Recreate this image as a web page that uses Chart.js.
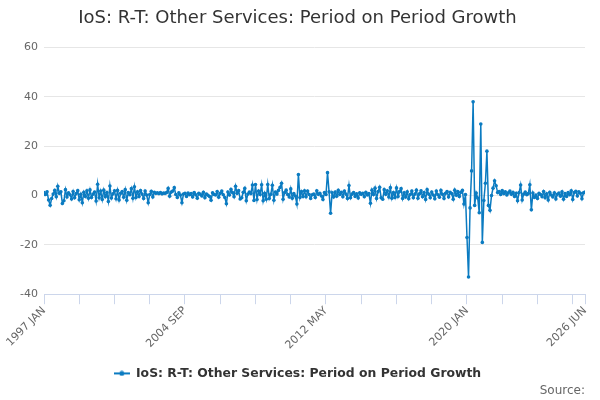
<!DOCTYPE html>
<html>
<head>
<meta charset="utf-8">
<title>IoS: R-T: Other Services: Period on Period Growth</title>
<script src="https://cdn.jsdelivr.net/npm/chart.js@4.4.1/dist/chart.umd.min.js"></script>
<style>
  html, body { margin: 0; padding: 0; background: #fff; }
</style>
</head>
<body>
<canvas id="growth-chart" width="600" height="400"></canvas>
<script>
"use strict";

// month names used to build the category labels
var monthNames = ["JAN", "FEB", "MAR", "APR", "MAY", "JUN", "JUL", "AUG", "SEP", "OCT", "NOV", "DEC"];
var startYear = 1997;

// period on period growth, one row per year (1997 JAN .. 2026 JUN)
var growth = [
    1.2, 0.4, 1.5, -1.8, -3.9, -1.2, 0.6, 2.1, -0.5, 3.8, 0.9, 1.5,
    -3.2, -2.1, 2.4, -0.6, 1.1, 0.3, -1.4, 1.6, -0.9, 0.8, 2.0, -1.7,
    0.5, -2.9, 1.3, -0.4, 1.9, -1.1, 2.3, -0.8, 0.6, 1.4, -2.2, 4.6,
    -0.9, 1.8, -1.6, 2.2, -0.5, 1.2, -2.4, 3.9, -1.0, 0.7, 1.9, -1.3,
    2.1, -1.8, 0.9, 1.6, -0.7, 2.4, -1.9, 1.2, 0.3, 2.8, -1.1, 3.6,
    -0.8, 1.5, -0.4, 2.0, 0.6, -1.2, 1.8, 0.2, -2.9, 0.4, 1.7, -0.6,
    1.3, 0.9, 1.1, 0.8, 1.2, 0.7, 1.0, 0.9, 1.2, 2.9, -0.3, 1.4,
    1.8, 3.2, 0.4, -0.8, 1.1, 0.2, -2.9, 0.6, 0.9, -0.4, 1.0, 0.3,
    0.8, -0.6, 1.2, 0.3, -1.1, 0.9, 0.5, -0.2, 1.3, -0.9, 0.6, 0.1,
    -0.4, -1.9, 1.1, 0.4, 0.2, 1.6, -0.7, 0.9, 1.8, 0.3, -0.8, -3.3,
    1.4, 0.2, 2.5, 1.2, -0.5, 3.8, 0.9, 2.0, -1.4, -0.9, 1.3, 2.9,
    -2.1, 0.6, 1.4, 0.8, 4.3, -2.0, 4.5, -1.6, 1.8, 0.4, 4.4, -2.1,
    0.9, -1.5, 4.5, -1.2, 0.5, 4.2, -1.9, 1.4, 0.6, 2.1, 3.3, 5.0,
    -1.5, 1.2, 2.2, 0.4, -0.6, 2.7, -1.1, 0.8, -0.2, -3.4, 8.5, -0.8,
    1.6, -0.4, 1.9, -0.5, 1.8, 0.4, -1.2, 0.3, 0.6, -0.8, 1.9, 0.5,
    0.9, -0.2, -1.6, 1.2, 0.4, 9.3, 1.5, -7.2, 1.1, -0.6, 1.4, -0.3,
    2.1, 0.4, 1.3, -0.5, 1.8, 0.6, -1.2, 4.1, -0.9, 0.6, 1.2, -0.4,
    0.7, -1.0, 1.1, 0.5, 0.9, -0.5, 1.3, 0.2, 0.8, -3.1, 2.2, 0.4,
    3.0, -1.2, 1.6, 3.4, -0.9, -1.5, 2.4, 0.5, 1.9, -0.6, 3.2, -1.1,
    1.2, -0.8, 3.1, -0.4, 1.6, 2.8, -1.2, 1.1, -0.6, 1.5, -1.3, 0.4,
    1.8, -0.9, 0.6, 2.2, -1.1, 0.7, 1.9, -0.5, 1.2, -1.6, 2.4, 0.6,
    -0.9, 1.4, 0.2, -1.3, 1.8, 0.3, -0.7, 2.1, 0.5, -1.2, 0.9, 1.6,
    -0.6, 1.3, 0.8, -1.5, 2.2, 0.1, 1.6, -0.4, 1.3, 2.1, -3.4, 0.4,
    -17.0, -33.0, -5.0, 10.0, 38.0, -4.0, 1.0, -1.0, -7.0, 29.0, -19.0, -2.0,
    5.0, 18.0, -4.0, -6.0, 0.0, 3.0, 6.0, 4.0, 1.2, 1.6, 0.4, 2.0,
    0.8, 1.5, 0.2, 1.1, 1.8, 0.5, 1.3, -0.4, 0.9, -2.1, 1.2, 4.3,
    -1.8, 0.6, 1.4, 0.3, 0.8, 4.4, -5.8, 1.0, -0.8, 0.2, -1.2, 0.9,
    0.4, -0.5, 1.6, -0.9, 0.7, -1.8, 1.3, 0.2, -0.6, 1.1, -1.4, 0.5,
    1.0, -0.3, 1.5, -1.5, 0.8, -0.4, 1.2, 0.3, 1.9, -1.6, 1.2, 1.7,
    -0.2, 1.5, 0.9, -1.3, 1.1, 1.4
];

// x axis: a tick every 23 months, labels only on these
var tickStep = 23;
var tickLabels = ["1997 JAN", "2004 SEP", "2012 MAY", "2020 JAN", "2026 JUN"];
var yTicks = [-40, -20, 0, 20, 40, 60];

var seriesName = "IoS: R-T: Other Services: Period on Period Growth";
var lineColor = "#0b7bc1";

var months = growth.map(function(v, i) {
    return (startYear + Math.floor(i / 12)) + " " + monthNames[i % 12];
});

function legendMark(color) {
    var c = document.createElement("canvas");
    c.width = 16;
    c.height = 6;
    var g = c.getContext("2d");
    g.strokeStyle = color;
    g.lineWidth = 2;
    g.beginPath();
    g.moveTo(0, 3);
    g.lineTo(16, 3);
    g.stroke();
    g.fillStyle = color;
    g.beginPath();
    g.arc(8, 3, 2.5, 0, Math.PI * 2);
    g.fill();
    return c;
}

Chart.defaults.font.family = "'DejaVu Sans', sans-serif";

var ctx = document.getElementById("growth-chart").getContext("2d");
var chart = new Chart(ctx, {
    type: "line",
    data: {
        datasets: [{
            label: seriesName,
            data: growth.map(function(v, i) { return { x: i, y: v }; }),
            borderColor: lineColor,
            backgroundColor: lineColor,
            borderWidth: 1.5,
            pointRadius: 1.8,
            pointBorderWidth: 0,
            pointBackgroundColor: lineColor,
            tension: 0,
            fill: false
        }]
    },
    options: {
        responsive: false,
        animation: false,
        layout: {
            padding: { left: 10, right: 15, top: 0, bottom: 0 }
        },
        plugins: {
            title: {
                display: true,
                text: seriesName,
                color: "#333333",
                font: { size: 18, weight: "normal" },
                padding: { top: 8, bottom: 18 }
            },
            subtitle: {
                display: true,
                text: "Source:",
                position: "bottom",
                align: "end",
                color: "#666666",
                font: { size: 12, weight: "normal" },
                padding: { top: -6, bottom: 2 }
            },
            legend: {
                position: "bottom",
                labels: {
                    color: "#333333",
                    font: { size: 12.4, weight: "bold" },
                    usePointStyle: true,
                    pointStyle: legendMark(lineColor),
                    pointStyleWidth: 16,
                    padding: 0
                }
            },
            tooltip: { enabled: false }
        },
        scales: {
            x: {
                type: "linear",
                min: 0,
                max: growth.length - 1,
                afterBuildTicks: function(scale) {
                    var t = [];
                    for (var i = 0; i < growth.length - 1; i += tickStep) t.push({ value: i });
                    t.push({ value: growth.length - 1 });
                    scale.ticks = t;
                },
                afterFit: function(scale) {
                    scale.height = 73;
                },
                grid: {
                    drawOnChartArea: false,
                    color: "#ccd6eb",
                    tickLength: 10
                },
                border: { color: "#ccd6eb", width: 1 },
                ticks: {
                    autoSkip: false,
                    minRotation: 45,
                    maxRotation: 45,
                    padding: 0,
                    color: "#666666",
                    font: { size: 11 },
                    callback: function(value) {
                        var lab = months[value];
                        return tickLabels.indexOf(lab) >= 0 ? lab : "";
                    }
                }
            },
            y: {
                min: yTicks[0],
                max: yTicks[yTicks.length - 1],
                afterBuildTicks: function(scale) {
                    scale.ticks = yTicks.map(function(v) { return { value: v }; });
                },
                afterFit: function(scale) {
                    scale.width = 34;
                },
                grid: {
                    color: "#e6e6e6",
                    drawTicks: false
                },
                border: { display: false },
                ticks: {
                    padding: 6,
                    color: "#666666",
                    font: { size: 11 }
                }
            }
        }
    }
});
</script>
</body>
</html>
